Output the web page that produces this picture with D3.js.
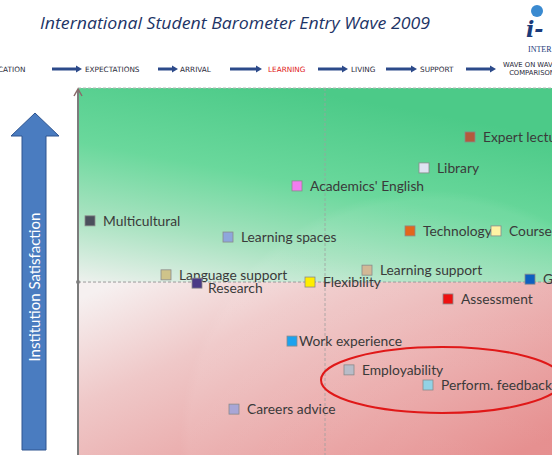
<!DOCTYPE html>
<html><head><meta charset="utf-8">
<script src="https://cdn.jsdelivr.net/npm/d3@7"></script>
<style>html,body{margin:0;padding:0;background:#fff;overflow:hidden}svg{display:block}</style>
</head><body>
<div id="chart"></div>
<script>
const titleText = "International Student Barometer Entry Wave 2009";
const stages = ["APPLICATION", "EXPECTATIONS", "ARRIVAL", "LEARNING", "LIVING", "SUPPORT", "WAVE ON WAVE|COMPARISON"];
const activeStage = "LEARNING";
const yAxisLabel = "Institution Satisfaction";

const items = ["Expert lecturers", "Library", "Academics' English", "Multicultural", "Learning spaces",
  "Technology", "Course content", "Learning support", "Language support", "Research", "Flexibility",
  "Good teachers", "Assessment", "Work experience", "Employability", "Perform. feedback", "Careers advice"];
const importance = [7.84, 6.92, 4.38, 0.24, 3.00, 6.64, 8.36, 5.78, 1.76, 2.38, 4.64, 9.04, 7.40, 4.28, 5.42, 7.00, 3.12];
const satisfaction = [8.64, 7.78, 7.28, 6.31, 5.86, 6.03, 6.03, 4.94, 4.81, 4.58, 4.61, 4.69, 4.14, 2.97, 2.17, 1.75, 1.08];
const colors = ["#b45a3c", "#dfe3f2", "#f27cf0", "#4b4f5c", "#8ea6dc", "#e2661c", "#fff3a4", "#d2b896",
  "#cfc38a", "#4a3a86", "#ffee00", "#0d5fc0", "#ee1111", "#1ca2ee", "#b8bcc8", "#92d2e6", "#a8a6d6"];
const midImportance = 4.94, midSatisfaction = 4.61;

const W = 552, H = 455;
const svg = d3.select("#chart").append("svg").attr("width", W).attr("height", H);
const defs = svg.append("defs");

const x = d3.scaleLinear().domain([0, 10]).range([78, 578]);
const y = d3.scaleLinear().domain([0, 10]).range([448, 88]);
const pTop = y(10), pBottom = H, pLeft = x(0), pRight = W;

// gradients
const g1 = defs.append("linearGradient").attr("id", "gGreen").attr("x1", 0.0).attr("y1", 1).attr("x2", 0.45).attr("y2", 0);
g1.append("stop").attr("offset", 0).attr("stop-color", "#eef1ee");
g1.append("stop").attr("offset", 0.3).attr("stop-color", "#a6e2bf");
g1.append("stop").attr("offset", 0.6).attr("stop-color", "#6ad89c");
g1.append("stop").attr("offset", 1).attr("stop-color", "#4cca88");
const g2 = defs.append("linearGradient").attr("id", "gRed").attr("x1", 0).attr("y1", 0.1).attr("x2", 1).attr("y2", 0.9);
g2.append("stop").attr("offset", 0).attr("stop-color", "#f6f0f0");
g2.append("stop").attr("offset", 0.3).attr("stop-color", "#efc8c8");
g2.append("stop").attr("offset", 1).attr("stop-color", "#e48686");
const g3 = defs.append("radialGradient").attr("id", "gGlow").attr("cx", 0.5).attr("cy", 0.5).attr("r", 0.5);
g3.append("stop").attr("offset", 0).attr("stop-color", "#ffffff").attr("stop-opacity", 0.10);
g3.append("stop").attr("offset", 0.96).attr("stop-color", "#ffffff").attr("stop-opacity", 0.06);
g3.append("stop").attr("offset", 1).attr("stop-color", "#ffffff").attr("stop-opacity", 0);

svg.append("rect").attr("x", pLeft).attr("y", pTop).attr("width", pRight - pLeft).attr("height", y(midSatisfaction) - pTop).attr("fill", "url(#gGreen)");
svg.append("rect").attr("x", pLeft).attr("y", y(midSatisfaction)).attr("width", pRight - pLeft).attr("height", pBottom - y(midSatisfaction)).attr("fill", "url(#gRed)");
svg.append("circle").attr("cx", 430).attr("cy", 440).attr("r", 250).attr("fill", "url(#gGlow)");

// quadrant lines
svg.append("line").attr("x1", pLeft).attr("x2", pRight).attr("y1", pTop).attr("y2", pTop)
  .attr("stroke", "#b8b8b8").attr("stroke-dasharray", "3,2").attr("stroke-width", 1);
svg.append("line").attr("x1", pLeft).attr("x2", pRight).attr("y1", y(midSatisfaction)).attr("y2", y(midSatisfaction))
  .attr("stroke", "#9a9a9a").attr("stroke-dasharray", "3,2").attr("stroke-width", 1);
svg.append("line").attr("x1", x(midImportance)).attr("x2", x(midImportance)).attr("y1", pTop).attr("y2", pBottom)
  .attr("stroke", "#a0a0a0").attr("stroke-dasharray", "3,2").attr("stroke-width", 0.8);
svg.append("circle").attr("cx", pLeft).attr("cy", y(midSatisfaction)).attr("r", 2).attr("fill", "#888");
// left axis with arrow
svg.append("line").attr("x1", pLeft).attr("x2", pLeft).attr("y1", pTop + 2).attr("y2", pBottom)
  .attr("stroke", "#7c7c7c").attr("stroke-width", 2);
svg.append("path").attr("d", `M${pLeft - 4},${pTop + 8} L${pLeft},${pTop + 1} L${pLeft + 4},${pTop + 8}`)
  .attr("fill", "none").attr("stroke", "#8a6a6a").attr("stroke-width", 1.5);

// ellipse highlight
svg.append("ellipse").attr("cx", 442).attr("cy", 380).attr("rx", 121).attr("ry", 33)
  .attr("fill", "none").attr("stroke", "#e01818").attr("stroke-width", 2);

// points
const data = items.map((n, i) => ({ name: n, ix: importance[i], sy: satisfaction[i], c: colors[i] }));
const pts = svg.append("g").selectAll("g").data(data).join("g")
  .attr("transform", d => `translate(${x(d.ix)},${y(d.sy)})`);
pts.append("rect").attr("x", -5).attr("y", -5).attr("width", 10).attr("height", 10)
  .attr("fill", d => d.c).attr("stroke", "#8a8a8a").attr("stroke-width", 0.8);
pts.append("text")
  .attr("x", d => d.name === "Research" ? 11 : (d.name === "Work experience" ? 7 : 13))
  .attr("y", d => d.name === "Research" ? 10 : 5)
  .attr("font-family", "Lato, 'Open Sans', sans-serif").attr("font-size", 13.8)
  .attr("fill", "#3a3a3a").text(d => d.name);

// title
svg.append("text").attr("x", 40).attr("y", 29).attr("font-family", "'Open Sans', sans-serif")
  .attr("font-style", "italic").attr("font-weight", 500).attr("font-size", 17).attr("fill", "#1d3466")
  .attr("textLength", 390).attr("lengthAdjust", "spacingAndGlyphs").text(titleText);

// logo approximation
svg.append("circle").attr("cx", 537).attr("cy", 11).attr("r", 6).attr("fill", "#3a8ad0");
svg.append("text").attr("x", 526).attr("y", 37).attr("font-family", "'DejaVu Serif', serif").attr("font-style", "italic")
  .attr("font-weight", "bold").attr("font-size", 22).attr("fill", "#1a3a7a").text("i-");
svg.append("text").attr("x", 528).attr("y", 52).attr("font-family", "'Liberation Serif', serif")
  .attr("font-size", 8).attr("fill", "#1a3a7a").text("INTER");

// nav stages
const stagePos = [-22, 85, 180, 268, 351, 420, 500];
const arrows = [[52, 82], [158, 178], [230, 262], [318, 348], [386, 417], [466, 496]];
const nav = svg.append("g").attr("font-family", "'DejaVu Sans', sans-serif").attr("font-size", 7.3);
stages.forEach((s, i) => {
  const parts = s.split("|");
  if (parts.length === 1) {
    nav.append("text").attr("x", stagePos[i]).attr("y", 72).attr("fill", s === activeStage ? "#e02020" : "#2a2a3a").text(s);
  } else {
    parts.forEach((p, j) => nav.append("text").attr("x", stagePos[i] + 30 + j * 2).attr("y", 67 + j * 8)
      .attr("text-anchor", "middle").attr("fill", "#2a2a3a").attr("font-size", 6.8).text(p));
  }
});
arrows.forEach(a => {
  nav.append("line").attr("x1", a[0]).attr("x2", a[1] - 5).attr("y1", 69).attr("y2", 69).attr("stroke", "#2c4a8a").attr("stroke-width", 3);
  nav.append("path").attr("d", `M${a[1] - 6},65.5 L${a[1]},69 L${a[1] - 6},72.5 Z`).attr("fill", "#2c4a8a");
});

// big arrow
svg.append("path").attr("d", "M22,450 L22,136 L11,136 L35,113 L59,136 L46,136 L46,450 Z")
  .attr("fill", "#4a7cc0").attr("stroke", "#2f5590").attr("stroke-width", 1);
svg.append("text").attr("transform", "translate(40,287) rotate(-90)").attr("text-anchor", "middle")
  .attr("font-family", "Lato, 'Open Sans', sans-serif").attr("font-size", 15).attr("fill", "#ffffff").text(yAxisLabel);
</script>
</body></html>
